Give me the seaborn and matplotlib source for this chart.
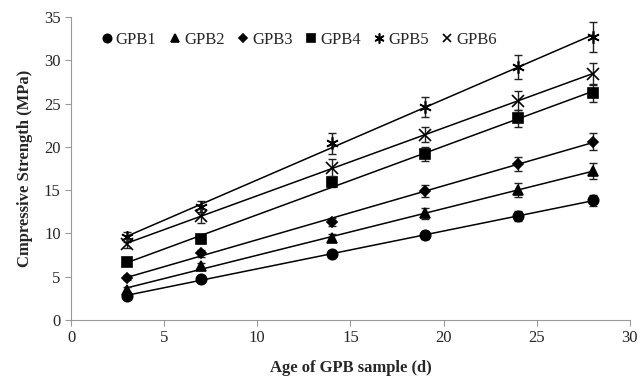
import matplotlib.pyplot as plt
import pandas as pd
import seaborn as sns

ages = [3, 7, 14, 19, 24, 28]
series = ["GPB1", "GPB2", "GPB3", "GPB4", "GPB5", "GPB6"]
gpb1 = [2.8, 4.7, 7.6, 9.8, 12.0, 13.8]
gpb2 = [3.5, 6.2, 9.5, 12.3, 15.0, 17.2]
gpb3 = [4.9, 7.7, 11.3, 14.9, 18.0, 20.6]
gpb4 = [6.7, 9.3, 15.9, 19.2, 23.3, 26.2]
gpb5 = [9.6, 13.1, 20.4, 24.6, 29.2, 32.7]
gpb6 = [8.8, 12.0, 17.6, 21.4, 25.3, 28.4]
err1 = [0.3, 0.3, 0.3, 0.5, 0.6, 0.6]
err2 = [0.3, 0.4, 0.4, 0.6, 0.8, 0.9]
err3 = [0.3, 0.4, 0.5, 0.7, 0.8, 1.0]
err4 = [0.4, 0.4, 0.6, 0.8, 1.0, 1.0]
err5 = [0.6, 0.6, 1.2, 1.2, 1.4, 1.7]
err6 = [0.5, 0.8, 1.0, 0.9, 1.1, 1.3]

values = [gpb1, gpb2, gpb3, gpb4, gpb5, gpb6]
errors = [err1, err2, err3, err4, err5, err6]
markers = ["o", "^", "D", "s", (6, 2, 0), "x"]
sizes = [7.5, 7.5, 5.5, 7.5, 9, 8]

data = pd.DataFrame(
    [(s, a, v, e) for s, vals, errs in zip(series, values, errors)
     for a, v, e in zip(ages, vals, errs)],
    columns=["mix", "age", "strength", "err"],
)

sns.set_style("white")
plt.rcParams["font.family"] = ["Liberation Serif", "DejaVu Serif"]

fig = plt.figure(figsize=(6.4, 3.85), dpi=100)
ax = fig.add_axes([0.111, 0.169, 0.873, 0.787])

for name, m, ms in zip(series, markers, sizes):
    d = data[data["mix"] == name]
    # linear trend line like the original spreadsheet chart
    sns.regplot(data=d, x="age", y="strength", ci=None, scatter=False,
                color="black", line_kws={"lw": 1.1}, ax=ax)
    ax.errorbar(d["age"], d["strength"], yerr=d["err"], fmt="none",
                ecolor="#222222", elinewidth=1, capsize=3)
    ax.plot(d["age"], d["strength"], linestyle="none", marker=m,
            markersize=ms, color="black", markeredgewidth=1.2, label=name)

ax.set_xlim(0, 30)
ax.set_ylim(0, 35)
ax.set_xticks(range(0, 31, 5))
ax.set_yticks(range(0, 36, 5))
ax.set_xlabel("Age of GPB sample (d)", fontsize=12, fontweight="bold", labelpad=10)
ax.set_ylabel("Cmpressive Strength (MPa)", fontsize=12, fontweight="bold", labelpad=8)
ax.tick_params(axis="both", labelsize=12, length=4, width=0.8, color="#999999",
               direction="out", bottom=True, left=True)
sns.despine(ax=ax)
for sp in ["left", "bottom"]:
    ax.spines[sp].set_color("#999999")
    ax.spines[sp].set_linewidth(0.8)

ax.legend(loc="upper left", bbox_to_anchor=(0.022, 1.0), ncol=6, frameon=False,
          fontsize=12, handletextpad=0.05, columnspacing=0.6, handlelength=1.0,
          markerscale=0.8)

fig.savefig("out.png", dpi=100)
